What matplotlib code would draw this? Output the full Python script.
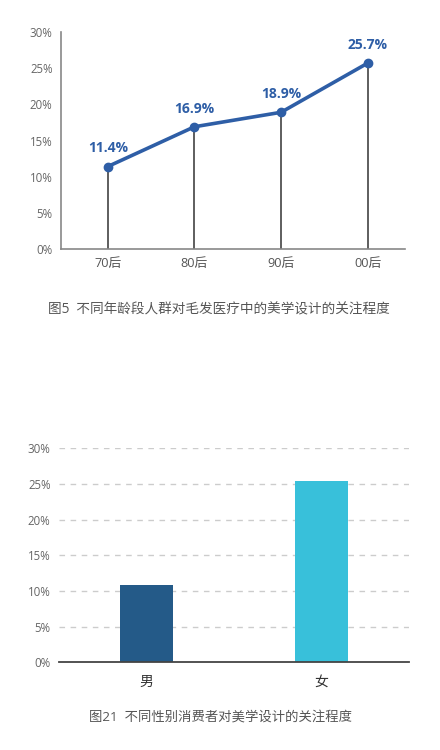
import matplotlib
matplotlib.use('Agg')
import matplotlib.pyplot as plt
import numpy as np

plt.rcParams['font.family'] = ['Open Sans', 'Noto Sans CJK SC', 'DejaVu Sans']

# ------------------------------------------------------------------
# Data
# ------------------------------------------------------------------
age_groups = ['70后', '80后', '90后', '00后']
age_values = [11.4, 16.9, 18.9, 25.7]
age_caption = '图5  不同年龄段人群对毛发医疗中的美学设计的关注程度'

genders = ['男', '女']
gender_values = [10.9, 25.4]
gender_colors = ['#245a88', '#38c0da']
gender_caption = '图21  不同性别消费者对美学设计的关注程度'

yticks = [0, 5, 10, 15, 20, 25, 30]
ytick_labels = [f'{t}%' for t in yticks]

W, H = 440, 750
fig = plt.figure(figsize=(W / 100, H / 100), dpi=100)
fig.patch.set_facecolor('white')


def px_axes(left, right, top, bottom):
    return fig.add_axes([left / W, 1 - bottom / H, (right - left) / W, (bottom - top) / H])


# ==================================================================
# Top chart: line with drop lines
# ==================================================================
ax1 = px_axes(61, 405, 32, 249)
x = np.arange(len(age_groups))
ax1.vlines(x, 0, age_values, color='#333333', linewidth=1.1, zorder=1)
ax1.plot(x, age_values, color='#2e5ea6', linewidth=2.6, marker='o', markersize=6,
         zorder=3, solid_capstyle='round')
for xi, v in zip(x, age_values):
    ax1.annotate(f'{v}%', (xi, v), xytext=(0, 8), textcoords='offset points',
                 ha='center', va='bottom', color='#2e5ea6', fontsize=10, fontweight='bold')

ax1.set_xlim(-0.54, 3.43)
ax1.set_ylim(0, 30)
ax1.set_xticks(x)
ax1.set_xticklabels(age_groups, fontsize=9.2, color='#555555')
ax1.set_yticks(yticks)
ax1.set_yticklabels(ytick_labels, fontsize=8.3, color='#666666')
ax1.tick_params(axis='both', length=0)
ax1.tick_params(axis='x', pad=6)
ax1.tick_params(axis='y', pad=6)
for s in ['top', 'right']:
    ax1.spines[s].set_visible(False)
for s in ['left', 'bottom']:
    ax1.spines[s].set_color('#888888')
    ax1.spines[s].set_linewidth(1.2)

fig.text(219 / W, 1 - 310 / H, age_caption, ha='center', va='center',
         fontsize=9.8, color='#555555')

# ==================================================================
# Bottom chart: bars
# ==================================================================
ax2 = px_axes(59, 409, 448.3, 662.3)
xg = np.arange(len(genders))
ax2.bar(xg, gender_values, width=0.305, color=gender_colors, zorder=3)
ax2.set_xlim(-0.5, 1.5)
ax2.set_ylim(0, 30)
ax2.set_xticks(xg)
ax2.set_xticklabels(genders, fontsize=10, color='#333333')
ax2.set_yticks(yticks)
ax2.set_yticklabels(ytick_labels, fontsize=8.3, color='#666666')
ax2.tick_params(axis='both', length=0)
ax2.tick_params(axis='x', pad=9)
ax2.tick_params(axis='y', pad=6)
for t in yticks[1:]:
    ax2.axhline(t, color='#cccccc', linewidth=1.0, linestyle=(0, (4, 4)), zorder=1)
for s in ['top', 'right', 'left']:
    ax2.spines[s].set_visible(False)
ax2.spines['bottom'].set_color('#444444')
ax2.spines['bottom'].set_linewidth(1.3)
ax2.spines['bottom'].set_zorder(4)

fig.text(220 / W, 1 - 717.7 / H, gender_caption, ha='center', va='center',
         fontsize=9.6, color='#555555')

fig.savefig('out.png', dpi=100, facecolor='white')
